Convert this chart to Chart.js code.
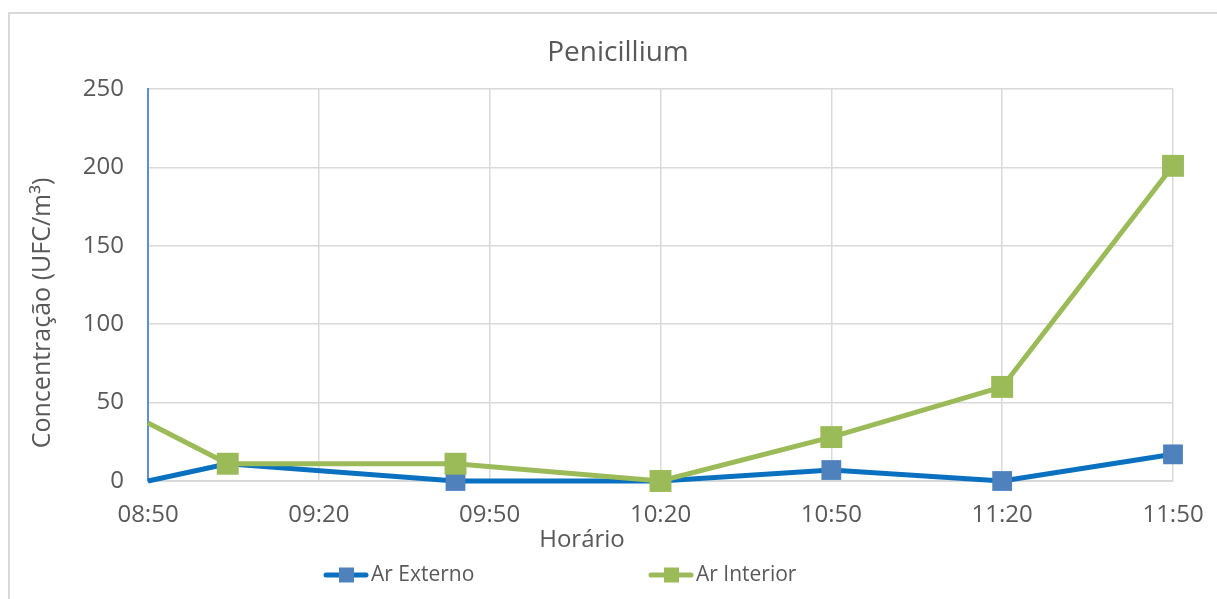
<!DOCTYPE html>
<html>
<head>
<meta charset="utf-8">
<script src="https://cdn.jsdelivr.net/npm/chart.js@4.4.1/dist/chart.umd.min.js"></script>
<style>
  html, body { margin: 0; padding: 0; background: #fff; }
  #box { position: absolute; left: 8px; top: 12px; width: 1209px; height: 587px;
         border-top: 2px solid #d9d9d9; border-left: 2px solid #d9d9d9; box-sizing: border-box; }
  #wrap { position: absolute; left: 0; top: 0; width: 1217px; height: 599px; }
</style>
</head>
<body>
<div id="box"></div>
<div id="wrap"><canvas id="myChart" width="1217" height="599"></canvas></div>
<script>
// sample times (the first one sits on the axis, no marker)
const horarios = ['08:50', '09:04', '09:44', '10:20', '10:50', '11:20', '11:50'];
const arExterno = [0, 11, 0, 0, 7, 0, 17];
const arInterior = [37, 11, 11, 0, 28, 60, 201];
const xTicks = ['08:50', '09:20', '09:50', '10:20', '10:50', '11:20', '11:50'];
const yTicks = [0, 50, 100, 150, 200, 250];

const FONT = '"Open Sans", "Noto Sans", sans-serif';
const TXT = '#595959';

// "hh:mm" -> minutes
function toMin(s) {
    let p = s.split(':');
    return parseInt(p[0]) * 60 + parseInt(p[1]);
}
function toHora(m) {
    let h = Math.floor(m / 60), mm = m % 60;
    return String(h).padStart(2, '0') + ':' + String(mm).padStart(2, '0');
}

let externoPts = horarios.map((h, i) => ({x: toMin(h), y: arExterno[i]}));
let interiorPts = horarios.map((h, i) => ({x: toMin(h), y: arInterior[i]}));
let semPrimeiro = (r) => horarios.map((h, i) => i === 0 ? 0 : r);

// title, axis titles and legend drawn by hand, Excel puts them off-centre
const textos = {
    id: 'textos',
    afterDraw(chart) {
        const ctx = chart.ctx;
        ctx.save();
        ctx.fillStyle = TXT;
        ctx.textAlign = 'center';
        ctx.textBaseline = 'middle';
        ctx.font = '28px ' + FONT;
        ctx.fillText('Penicillium', 618, 53);
        ctx.font = '24px ' + FONT;
        ctx.fillText('Horário', 582, 540);
        ctx.save();
        ctx.translate(43, 313);
        ctx.rotate(-Math.PI / 2);
        ctx.font = '25px ' + FONT;
        ctx.fillText('Concentração (UFC/m³)', 0, 0);
        ctx.restore();

        // legend
        let itens = [
            {ds: chart.data.datasets[1], x0: 324},
            {ds: chart.data.datasets[0], x0: 649}
        ];
        itens.forEach(it => {
            let y = 575;
            ctx.strokeStyle = it.ds.borderColor;
            ctx.lineWidth = 5;
            ctx.lineCap = 'round';
            ctx.beginPath();
            ctx.moveTo(it.x0 + 2, y);
            ctx.lineTo(it.x0 + 42, y);
            ctx.stroke();
            ctx.fillStyle = it.ds.pointBackgroundColor;
            ctx.fillRect(it.x0 + 15, y - 7.5, 15, 15);
            ctx.fillStyle = TXT;
            ctx.textAlign = 'left';
            ctx.font = '21px ' + FONT;
            ctx.fillText(it.ds.label, it.x0 + 47, y);
        });
        ctx.restore();
    }
};

const myChart = document.getElementById('myChart');

let lineChart = new Chart(myChart, {
    type: 'line',
    data: {
        datasets: [
            {
                label: 'Ar Interior',
                data: interiorPts,
                borderColor: '#9bbb59',
                backgroundColor: '#9bbb59',
                pointBackgroundColor: '#9bbb59',
                pointBorderWidth: 0,
                pointStyle: 'rect',
                pointRadius: semPrimeiro(15.5),
                borderWidth: 5,
                tension: 0,
                clip: false,
                order: 0
            },
            {
                label: 'Ar Externo',
                data: externoPts,
                borderColor: '#0a70c0',
                backgroundColor: '#4f81bd',
                pointBackgroundColor: '#4f81bd',
                pointBorderWidth: 0,
                pointStyle: 'rect',
                pointRadius: semPrimeiro(14),
                borderWidth: 5,
                tension: 0,
                clip: false,
                order: 1
            }
        ]
    },
    options: {
        responsive: false,
        animation: false,
        layout: {padding: {left: 0, right: 44, top: 89, bottom: 0}},
        plugins: {
            legend: {display: false},
            title: {display: false},
            tooltip: {enabled: false}
        },
        scales: {
            x: {
                type: 'linear',
                min: toMin(xTicks[0]),
                max: toMin(xTicks[xTicks.length - 1]),
                afterBuildTicks: (s) => { s.ticks = xTicks.map(t => ({value: toMin(t)})); },
                afterFit: (s) => { s.height = 118; s.paddingLeft = 0; s.paddingRight = 0; },
                ticks: {
                    callback: (v) => toHora(v),
                    color: TXT,
                    font: {family: FONT, size: 24},
                    padding: 20,
                    maxRotation: 0,
                    autoSkip: false
                },
                grid: {color: '#d9d9d9', lineWidth: 1.5, drawTicks: false},
                border: {color: '#d9d9d9', width: 2}
            },
            y: {
                min: yTicks[0],
                max: yTicks[yTicks.length - 1],
                afterBuildTicks: (s) => { s.ticks = yTicks.map(v => ({value: v})); },
                afterFit: (s) => { s.width = 148; s.paddingTop = 0; s.paddingBottom = 0; },
                ticks: {
                    color: TXT,
                    font: {family: FONT, size: 24},
                    padding: 24
                },
                grid: {color: '#d9d9d9', lineWidth: 1.5, drawTicks: false},
                border: {color: '#5b8fd6', width: 2}
            }
        }
    },
    plugins: [textos]
});
</script>
</body>
</html>
